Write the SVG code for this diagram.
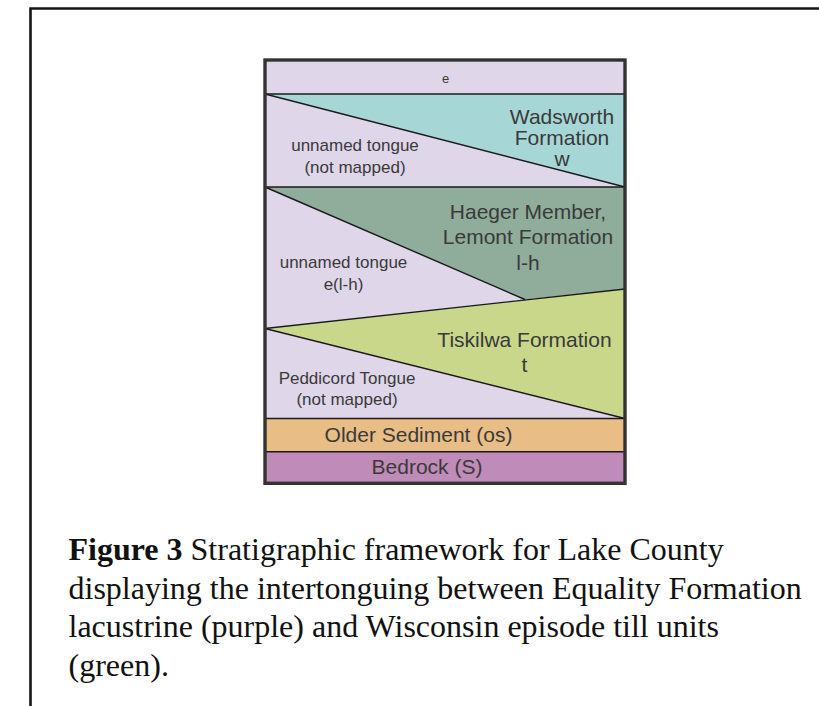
<svg xmlns="http://www.w3.org/2000/svg" width="819" height="706" viewBox="0 0 819 706">
<style>
.lbl{font-family:"Liberation Sans",Arial,sans-serif;fill:#3a3a3a;text-anchor:middle}
.big{font-size:21px}
.sm{font-size:17px}
.xs{font-size:13px}
.edge{stroke:#1a1a1a;stroke-width:1.4;fill:none}
.cap{font-family:"Liberation Serif","Times New Roman",serif;font-size:32px;fill:#111}
</style>
<rect x="0" y="0" width="819" height="706" fill="#ffffff"/>
<g id="frame">
<path d="M30.5 706 V8.5 H819" fill="none" stroke="#151515" stroke-width="2.6"/>
</g>
<g id="layer-e">
<rect x="265" y="60" width="360" height="34" fill="#dfd6e9"/>
<text class="lbl xs" x="445.5" y="82.5">e</text>
</g>
<g id="tongue-upper">
<polygon points="265,94 625,187 265,187" fill="#dfd6e9"/>
<text class="lbl sm" x="355" y="151">unnamed tongue</text>
<text class="lbl sm" x="355" y="173">(not mapped)</text>
</g>
<g id="wadsworth">
<polygon points="265,94 625,94 625,187" fill="#a6d7d6"/>
<text class="lbl big" x="562" y="123.5">Wadsworth</text>
<text class="lbl big" x="562" y="144.5">Formation</text>
<text class="lbl big" x="562" y="165.5">w</text>
</g>
<g id="tongue-middle">
<polygon points="265,187 525,299.5 265,328.5" fill="#dfd6e9"/>
<text class="lbl sm" x="343.5" y="267.5">unnamed tongue</text>
<text class="lbl sm" x="343.5" y="290">e(l-h)</text>
</g>
<g id="haeger">
<polygon points="265,187 625,187 625,289 525,299.5" fill="#8fad9a"/>
<text class="lbl big" x="528" y="218.5">Haeger Member,</text>
<text class="lbl big" x="528" y="244">Lemont Formation</text>
<text class="lbl big" x="528" y="269.5">l-h</text>
</g>
<g id="peddicord">
<polygon points="265,328.5 625,418.5 265,418.5" fill="#dfd6e9"/>
<text class="lbl sm" x="347" y="383.5">Peddicord Tongue</text>
<text class="lbl sm" x="347" y="405">(not mapped)</text>
</g>
<g id="tiskilwa">
<polygon points="265,328.5 625,289 625,418.5" fill="#c9d78b"/>
<text class="lbl big" x="524.5" y="347">Tiskilwa Formation</text>
<text class="lbl big" x="524.5" y="372">t</text>
</g>
<g id="older-sediment">
<rect x="265" y="418.5" width="360" height="33.3" fill="#e8bd86"/>
<text class="lbl big" x="418.5" y="442">Older Sediment (os)</text>
</g>
<g id="bedrock">
<rect x="265" y="451.8" width="360" height="31.5" fill="#bf8bb8"/>
<text class="lbl big" x="427" y="473.5">Bedrock (S)</text>
</g>
<g id="connectors">
<line class="edge" x1="265" y1="94" x2="625" y2="94"/>
<line class="edge" x1="265" y1="94" x2="625" y2="187"/>
<line class="edge" x1="265" y1="187" x2="625" y2="187"/>
<line class="edge" x1="265" y1="187" x2="525" y2="299.5"/>
<line class="edge" x1="265" y1="328.5" x2="625" y2="289"/>
<line class="edge" x1="265" y1="328.5" x2="625" y2="418.5"/>
<line class="edge" x1="265" y1="418.5" x2="625" y2="418.5"/>
<line class="edge" x1="265" y1="451.8" x2="625" y2="451.8"/>
</g>
<g id="column-border">
<rect x="265" y="60" width="360" height="423.3" fill="none" stroke="#333333" stroke-width="3.4"/>
</g>
<g id="caption">
<text class="cap" x="68.5" y="560"><tspan font-weight="bold">Figure 3</tspan> Stratigraphic framework for Lake County</text>
<text class="cap" x="68.5" y="598.5">displaying the intertonguing between Equality Formation</text>
<text class="cap" x="68.5" y="637">lacustrine (purple) and Wisconsin episode till units</text>
<text class="cap" x="68.5" y="675.5">(green).</text>
</g>
</svg>
